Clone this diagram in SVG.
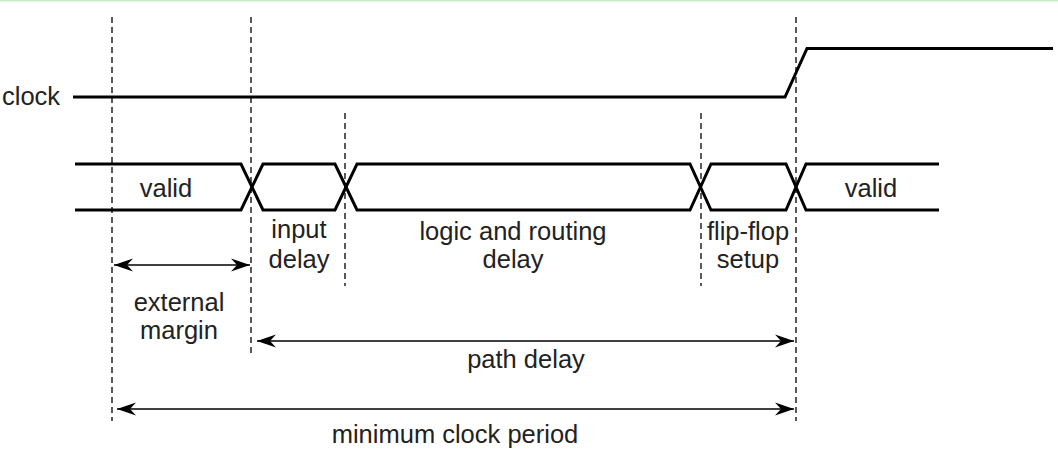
<svg xmlns="http://www.w3.org/2000/svg" width="1058" height="450" viewBox="0 0 1058 450">
<style>
.sig{fill:none;stroke:#000;stroke-width:3;stroke-linejoin:miter}
.dash{fill:none;stroke:#000;stroke-width:1.3;stroke-dasharray:6,4}
.dim{fill:none;stroke:#000;stroke-width:1.6}
text{font-family:"Liberation Sans",Arial,sans-serif;font-size:25.5px;fill:#222}
.c{text-anchor:middle}
</style>
<defs>
<marker id="ah" markerUnits="userSpaceOnUse" markerWidth="22" markerHeight="16" viewBox="-20 -8 22 16" refX="0" refY="0" orient="auto-start-reverse">
<path d="M0,0 L-19,-6.5 L-13,0 L-19,6.5 Z" fill="#000"/>
</marker>
</defs>
<rect x="0" y="0" width="1058" height="450" fill="#fff"/>
<rect x="0" y="0" width="1058" height="1.5" fill="#c8f0c8"/>
<g id="guides">
<line class="dash" x1="112" y1="17" x2="112" y2="421"/>
<line class="dash" x1="251" y1="17" x2="251" y2="354"/>
<line class="dash" x1="345" y1="113" x2="345" y2="286"/>
<line class="dash" x1="701" y1="113" x2="701" y2="286"/>
<line class="dash" x1="796" y1="17" x2="796" y2="421"/>
</g>
<g id="clock">
<text x="2" y="105">clock</text>
<polyline class="sig" points="73,97 785,97 807,48.5 1053,48.5"/>
</g>
<g id="data">
<polyline class="sig" points="75,164 241,164 263,210 335,210 357,164 690,164 711,210 786,210 806,164 939,164"/>
<polyline class="sig" points="75,210 241,210 263,164 335,164 357,210 690,210 711,164 786,164 806,210 939,210"/>
<text class="c" x="166" y="197">valid</text>
<text class="c" x="871" y="197">valid</text>
</g>
<g id="labels">
<text class="c" x="299" y="238">input</text>
<text class="c" x="299" y="268">delay</text>
<text class="c" x="513" y="240">logic and routing</text>
<text class="c" x="513" y="268">delay</text>
<text class="c" x="748" y="240">flip-flop</text>
<text class="c" x="748" y="268">setup</text>
<text class="c" x="179" y="311">external</text>
<text class="c" x="179" y="339">margin</text>
<text class="c" x="526" y="368">path delay</text>
<text class="c" x="455" y="443">minimum clock period</text>
</g>
<g id="connectors">
<line class="dim" x1="114" y1="265" x2="250" y2="265" marker-start="url(#ah)" marker-end="url(#ah)"/>
<line class="dim" x1="257" y1="341" x2="794" y2="341" marker-start="url(#ah)" marker-end="url(#ah)"/>
<line class="dim" x1="117" y1="409" x2="794" y2="409" marker-start="url(#ah)" marker-end="url(#ah)"/>
</g>
</svg>
